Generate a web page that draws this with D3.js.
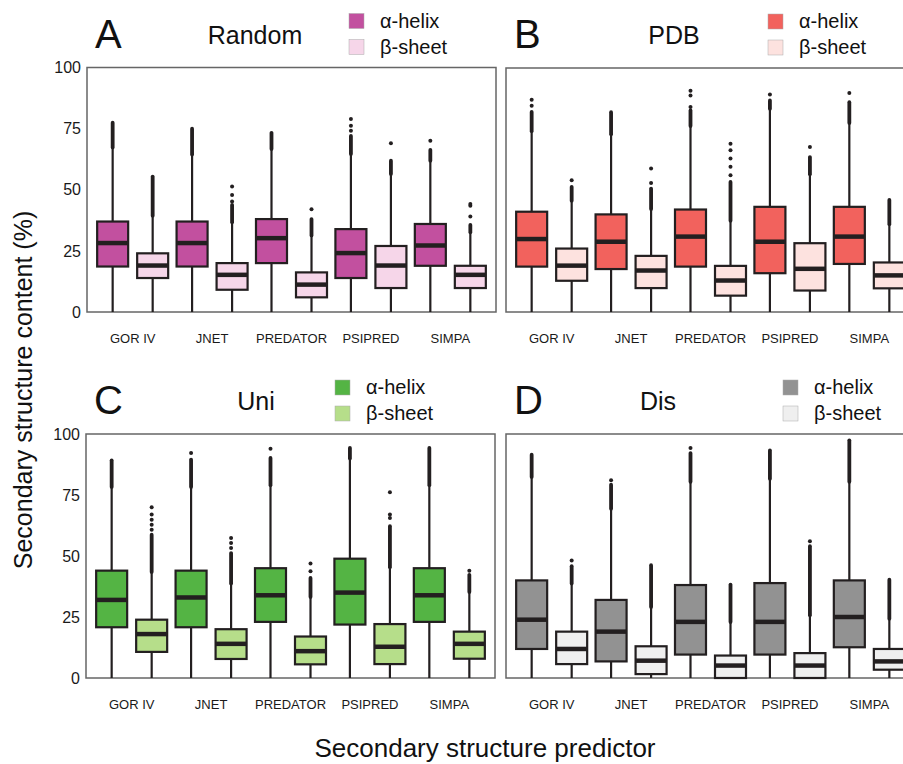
<!DOCTYPE html>
<html>
<head>
<meta charset="utf-8">
<script src="https://cdn.jsdelivr.net/npm/d3@7"></script>
<style>
  body { margin: 0; background: #fff; }
  svg { display: block; font-family: "Liberation Sans", Arial, sans-serif; }
  .frame { fill: none; stroke: #666; stroke-width: 1.5; }
  .tick text { fill: #1a1a1a; }
</style>
</head>
<body>
<svg id="chart" width="903" height="764"></svg>
<script>
const predictors = ["GOR IV", "JNET", "PREDATOR", "PSIPRED", "SIMPA"];
const structures = ["α-helix", "β-sheet"];
const yTicks = [0, 25, 50, 75, 100];

// box rows: [whisker low, q1, median, q3, whisker high]
// outlier rows: first value = top of the dense dot stack, the rest = single dots
const randomHelix = [[0, 18.6, 28.2, 37, 66.9], [0, 18.6, 28.2, 37, 64], [0, 20, 30.2, 38, 66.3], [0, 13.9, 24.1, 33.9, 64.2], [0, 18.9, 27.2, 36, 61.5]];
const randomHelixOut = [[77.4], [75], [73.3], [72, 74.1, 76.2, 78.9], [66.3, 70]];
const randomBeta = [[0, 13.9, 19, 24, 39], [0, 9.1, 15.2, 20, 36.3], [0, 6, 11.2, 16.2, 30.9], [0, 9.8, 19, 27, 56], [0, 9.8, 15.2, 18.9, 32.2]];
const randomBetaOut = [[55.4], [43.8, 45.2, 47.9, 51.3], [38, 42], [61.9, 69], [35.6, 39.1, 43.5, 44.2]];

const pdbHelix = [[0, 18.6, 29.9, 41.1, 73.7], [0, 17.6, 28.8, 40, 72.4], [0, 18.6, 30.9, 42, 75.8], [0, 15.9, 28.8, 43.1, 82.9], [0, 19.7, 30.9, 43.1, 77.1]];
const pdbHelixOut = [[82, 84.5, 87], [81.9], [82.6, 84, 88.7, 90.7], [86.7, 89.1], [86, 89.8]];
const pdbBeta = [[0, 12.8, 19, 26, 45.2], [0, 9.8, 17, 23, 41.8], [0, 6.7, 12.9, 18.9, 37], [0, 8.8, 17.7, 28.2, 56], [0, 9.7, 15, 20.3, 35.6]];
const pdbBetaOut = [[51.3, 54], [50.6, 52.9, 58.8], [53.3, 56, 59.5, 62.9, 66.3, 69], [63.5, 67.6], [45.9]];

const uniHelix = [[0, 20.8, 32, 44, 77.9], [0, 20.8, 33, 44, 77.9], [0, 23, 33.9, 45, 78.6], [0, 21.9, 35, 48.9, 89.5], [0, 23, 33.9, 45, 78.6]];
const uniHelixOut = [[89.2], [89.5, 92.2], [90.2, 94], [94.3], [94.3]];
const uniBeta = [[0, 10.7, 18, 23.9, 43], [0, 7.8, 14, 20, 38.3], [0, 5.6, 11, 17, 32.8], [0, 5.7, 12.8, 22.1, 45], [0, 7.9, 14, 19, 34.8]];
const uniBetaOut = [[58.7, 60.8, 62.8, 64.9, 67, 70], [51.2, 53.3, 55.3, 57.4], [41, 43.7, 46.9], [62.2, 65.6, 67, 76.1], [42.3, 44]];

const disHelix = [[0, 11.9, 23.9, 40, 82], [0, 6.8, 19, 32, 69], [0, 9.6, 23, 38.1, 80], [0, 9.6, 23, 38.9, 81.3], [0, 12.6, 25, 40, 80]];
const disHelixOut = [[91.5], [79.2, 81], [92.2, 94.3], [93.3], [97.4]];
const disBeta = [[0, 5.7, 11.9, 19, 38.3], [0, 1.6, 7.1, 13, 28.7], [0, 0, 5.1, 9.2, 22.5], [0, 0, 5.1, 10.2, 25.3], [0, 3.4, 6.8, 11.9, 23.9]];
const disBetaOut = [[45.8, 48.2], [46.2], [38.3], [54, 56], [40.3]];

const panels = [
  { letter: "A", title: "Random", colors: ["#c2509f", "#f6d6e9"], helix: randomHelix, helixOut: randomHelixOut, beta: randomBeta, betaOut: randomBetaOut,
    x0: 87, top: 67.5, bottom: 312, titleX: 255, legX: 349, showY: true },
  { letter: "B", title: "PDB", colors: ["#f2625d", "#fde2df"], helix: pdbHelix, helixOut: pdbHelixOut, beta: pdbBeta, betaOut: pdbBetaOut,
    x0: 506, top: 68, bottom: 312, titleX: 674, legX: 768, showY: false },
  { letter: "C", title: "Uni", colors: ["#54b444", "#b6de8a"], helix: uniHelix, helixOut: uniHelixOut, beta: uniBeta, betaOut: uniBetaOut,
    x0: 86, top: 434, bottom: 678, titleX: 256, legX: 335, showY: true },
  { letter: "D", title: "Dis", colors: ["#929292", "#efefef"], helix: disHelix, helixOut: disHelixOut, beta: disBeta, betaOut: disBetaOut,
    x0: 506, top: 434, bottom: 678, titleX: 658, legX: 783, showY: false }
];

const frameW = 409;
const ink = "#231f20";
const svg = d3.select("#chart");

panels.forEach(p => {
  const g = svg.append("g");

  const x = d3.scaleBand().domain(predictors)
      .range([p.x0, p.x0 + frameW]).paddingInner(0).paddingOuter(0.075);
  const x1 = d3.scaleBand().domain(structures)
      .range([0, x.bandwidth()]).paddingInner(0.225).paddingOuter(0.105);
  const y = d3.scaleLinear().domain([0, 100]).range([p.bottom, p.top]);

  // frame
  g.append("rect").attr("class", "frame")
    .attr("x", p.x0).attr("y", p.top)
    .attr("width", frameW).attr("height", p.bottom - p.top);

  // y axis (only on the left column)
  if (p.showY) {
    const yAxis = g.append("g").attr("transform", `translate(${p.x0},0)`)
      .call(d3.axisLeft(y).tickValues(yTicks).tickSize(0).tickPadding(6));
    yAxis.select(".domain").remove();
    yAxis.selectAll("text").style("font-size", "16px");
  }

  // x axis labels
  const xAxis = g.append("g").attr("transform", `translate(0,${p.bottom})`)
    .call(d3.axisBottom(x).tickSize(0).tickPadding(22));
  xAxis.select(".domain").remove();
  xAxis.selectAll("text").style("font-size", "13px");

  const series = [
    { key: structures[0], rows: p.helix, out: p.helixOut, color: p.colors[0] },
    { key: structures[1], rows: p.beta, out: p.betaOut, color: p.colors[1] }
  ];

  series.forEach(s => {
    const boxes = g.selectAll(null)
      .data(s.rows.map((r, i) => ({ name: predictors[i], r: r, out: s.out[i] })))
      .enter().append("g")
      .attr("transform", d => `translate(${x(d.name) + x1(s.key)},0)`);
    const bw = x1.bandwidth();
    const cx = bw / 2;

    // whisker
    boxes.append("line")
      .attr("x1", cx).attr("x2", cx)
      .attr("y1", d => y(d.r[0])).attr("y2", d => y(d.r[4]))
      .attr("stroke", ink).attr("stroke-width", 2.2);

    // dense outlier stack
    boxes.append("line")
      .attr("x1", cx).attr("x2", cx)
      .attr("y1", d => y(d.r[4]) - 1).attr("y2", d => y(d.out[0]))
      .attr("stroke", ink).attr("stroke-width", 3.8).attr("stroke-linecap", "round");

    // single outliers
    boxes.selectAll("circle")
      .data(d => d.out.slice(1))
      .enter().append("circle")
      .attr("cx", cx).attr("cy", v => y(v)).attr("r", 2)
      .attr("fill", ink);

    // box
    boxes.append("rect")
      .attr("x", 0).attr("width", bw)
      .attr("y", d => y(d.r[3])).attr("height", d => y(d.r[1]) - y(d.r[3]))
      .attr("fill", s.color).attr("stroke", ink).attr("stroke-width", 2.2);

    // median
    boxes.append("line")
      .attr("x1", 0).attr("x2", bw)
      .attr("y1", d => y(d.r[2])).attr("y2", d => y(d.r[2]))
      .attr("stroke", ink).attr("stroke-width", 4.5);
  });

  // panel letter and title
  const headY = p.top - 20;
  g.append("text").attr("x", p.x0 + 8).attr("y", headY)
    .style("font-size", "40px").attr("fill", "#111").text(p.letter);
  g.append("text").attr("x", p.titleX).attr("y", headY - 4)
    .attr("text-anchor", "middle")
    .style("font-size", "25px").attr("fill", "#111").text(p.title);

  // legend
  structures.forEach((st, i) => {
    const ly = p.top - 54 + i * 26;
    g.append("rect").attr("x", p.legX).attr("y", ly)
      .attr("width", 15).attr("height", 15)
      .attr("fill", p.colors[i]).attr("stroke", "#aaa").attr("stroke-width", 0.5);
    g.append("text").attr("x", p.legX + 31).attr("y", ly + 14)
      .style("font-size", "20px").attr("fill", "#111").text(st);
  });
});

// axis titles
svg.append("text")
  .attr("transform", "translate(32,390) rotate(-90)")
  .attr("text-anchor", "middle")
  .style("font-size", "25px").attr("fill", "#111")
  .text("Secondary structure content (%)");

svg.append("text")
  .attr("x", 485).attr("y", 757)
  .attr("text-anchor", "middle")
  .style("font-size", "26px").attr("fill", "#111")
  .text("Secondary structure predictor");
</script>
</body>
</html>
